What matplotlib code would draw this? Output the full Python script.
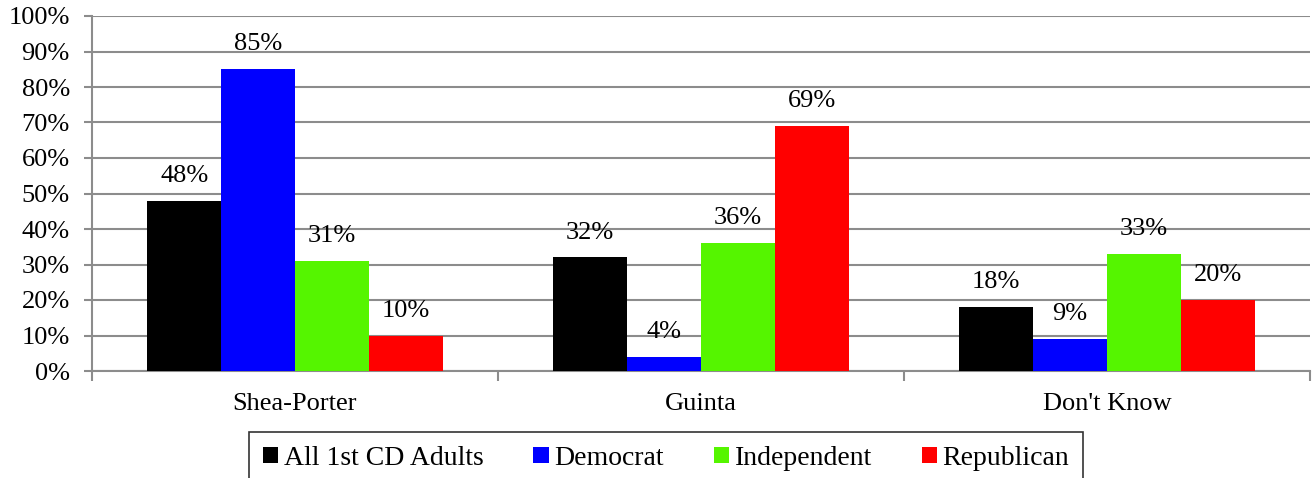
import matplotlib
matplotlib.use("Agg")
import matplotlib.pyplot as plt
import numpy as np

categories = ["Shea-Porter", "Guinta", "Don't Know"]
series_names = ["All 1st CD Adults", "Democrat", "Independent", "Republican"]
all_adults = [48, 32, 18]
democrat = [85, 4, 9]
independent = [31, 36, 33]
republican = [10, 69, 20]
colors = ["#000000", "#0000FF", "#55F500", "#FF0000"]
yticks = [0, 10, 20, 30, 40, 50, 60, 70, 80, 90, 100]

plt.rcParams['font.family'] = ['Liberation Serif', 'DejaVu Serif']

fig = plt.figure(figsize=(13.15, 4.78), dpi=100)
ax = fig.add_axes([92/1315, 1-371/478, (1310-92)/1315, (371-16)/478])

series = [all_adults, democrat, independent, republican]
x = np.arange(len(categories))
bw = 0.182
for i, (vals, c, name) in enumerate(zip(series, colors, series_names)):
    pos = x + (i - 1.5) * bw
    bars = ax.bar(pos, vals, width=bw, color=c, label=name, zorder=3)
    for p, v in zip(pos, vals):
        ax.annotate(f"{v}%", (p, v), xytext=(0, 10), textcoords="offset points",
                    ha="center", va="bottom", fontsize=19)

ax.set_xlim(-0.5, 2.5)
ax.set_ylim(0, 100)
ax.set_yticks(yticks)
ax.set_yticklabels([f"{t}%" for t in yticks], fontsize=19)
ax.yaxis.grid(True, color="#8c8c8c", linewidth=1.5, zorder=0)
ax.set_xticks(x)
ax.set_xticklabels(categories, fontsize=19)
ax.tick_params(axis="x", length=0, pad=16)
ax.set_xticks([-0.5, 0.5, 1.5, 2.5], minor=True)
ax.tick_params(axis="x", which="minor", length=7, color="#8c8c8c", width=1.5)
ax.tick_params(axis="y", length=6, color="#8c8c8c", width=1.5, pad=10)
for s in ["top", "right"]:
    ax.spines[s].set_visible(False)
for s in ["left", "bottom"]:
    ax.spines[s].set_color("#8c8c8c")
    ax.spines[s].set_linewidth(1.5)

leg = fig.legend(loc="upper center", bbox_to_anchor=(666/1315, 1-432/478), ncol=4,
                 fontsize=20, frameon=True, fancybox=False, edgecolor="black",
                 handlelength=0.55, handleheight=0.55, handletextpad=0.2,
                 columnspacing=1.8, borderpad=0.5, borderaxespad=0)
leg.get_frame().set_linewidth(1.2)

fig.savefig("out.png", dpi=100)
